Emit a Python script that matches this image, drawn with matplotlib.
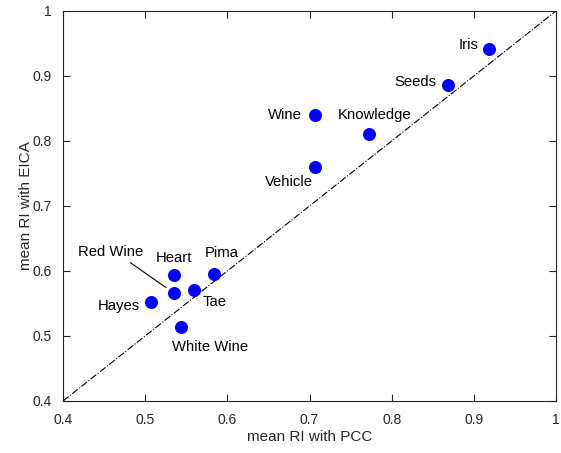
import matplotlib
matplotlib.use("Agg")
import matplotlib.pyplot as plt
import numpy as np

plt.rcParams['font.family'] = ['Liberation Sans', 'DejaVu Sans']

# data
datasets = ["Iris", "Seeds", "Wine", "Knowledge", "Vehicle", "Heart", "Pima",
            "Red Wine", "Tae", "Hayes", "White Wine"]
ri_pcc = [0.918, 0.869, 0.707, 0.772, 0.707, 0.535, 0.584, 0.535, 0.559, 0.507, 0.544]
ri_eica = [0.942, 0.886, 0.840, 0.811, 0.760, 0.594, 0.595, 0.566, 0.571, 0.552, 0.514]

# label placement (offset in pixels, horizontal alignment)
offsets = [(-10, 4, 'right'), (-12, 3, 'right'), (-13, 0, 'right'), (6, 19, 'center'),
           (-26, -15, 'center'), (0, 17, 'center'), (8, 21, 'center'), (-63, 41, 'center'),
           (21, -12, 'center'), (-11, -4, 'right'), (29, -20, 'center')]

fig = plt.figure(figsize=(5.61, 4.53), dpi=100)
ax = fig.add_axes([0.1123, 0.1148, 0.8788, 0.861])

ax.plot([0.4, 1], [0.4, 1], color='black', linestyle='-.', linewidth=0.8)
ax.scatter(ri_pcc, ri_eica, s=70, color='#0000ff', zorder=3)

for name, x, y, (dx, dy, ha) in zip(datasets, ri_pcc, ri_eica, offsets):
    if name == "Red Wine":
        ax.annotate(name, (x, y), xytext=(dx, dy), textcoords='offset pixels',
                    ha=ha, va='center', fontsize=10.7,
                    arrowprops=dict(arrowstyle='-', color='black', lw=0.8,
                                    relpos=(0.72, 0), shrinkA=1, shrinkB=7))
    else:
        ax.annotate(name, (x, y), xytext=(dx, dy), textcoords='offset pixels',
                    ha=ha, va='center', fontsize=10.7)

ax.set_xlim(0.4, 1)
ax.set_ylim(0.4, 1)
ax.set_xticks(np.arange(0.4, 1.01, 0.1))
ax.set_yticks(np.arange(0.4, 1.01, 0.1))
ax.set_xticklabels(["0.4", "0.5", "0.6", "0.7", "0.8", "0.9", "1"])
ax.set_yticklabels(["0.4", "0.5", "0.6", "0.7", "0.8", "0.9", "1"])
ax.tick_params(direction='in', top=True, right=True, length=5, labelsize=10,
               color='#262626', labelcolor='#262626')
ax.tick_params(axis='x', pad=9)
ax.tick_params(axis='y', pad=8)
for sp in ax.spines.values():
    sp.set_color('#262626')
    sp.set_linewidth(0.8)
ax.set_xlabel("mean RI with PCC", fontsize=11, color='#262626', labelpad=2)
ax.set_ylabel("mean RI with EICA", fontsize=11, color='#262626', labelpad=0)

fig.savefig("out.png", dpi=100)
